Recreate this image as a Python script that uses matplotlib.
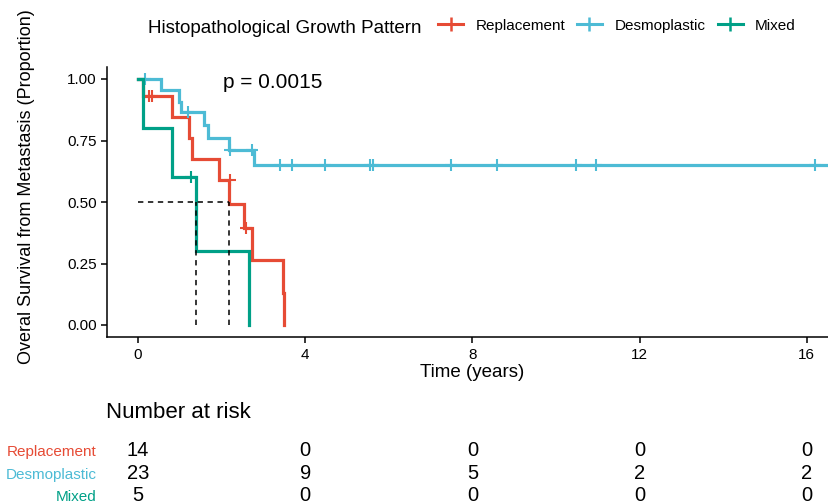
import matplotlib
matplotlib.use('Agg')
import matplotlib.pyplot as plt
from matplotlib.lines import Line2D
from matplotlib.transforms import blended_transform_factory

plt.rcParams['font.family'] = ['Liberation Sans', 'DejaVu Sans']

groups = ['Replacement', 'Desmoplastic', 'Mixed']
colors = ['#E64B35', '#4DBBD5', '#00A087']

# step curves (time, survival after the step)
repl_t = [0, 0.13, 0.82, 1.21, 1.29, 1.94, 2.18, 2.54, 2.72, 3.46, 3.50]
repl_s = [1.0, 0.929, 0.845, 0.760, 0.675, 0.591, 0.492, 0.394, 0.263, 0.131, 0.0]
repl_cens_t = [0.27, 0.34, 2.20, 2.58]
repl_cens_s = [0.929, 0.929, 0.591, 0.394]

desm_t = [0, 0.54, 0.99, 1.04, 1.58, 1.68, 2.18, 2.77, 17.0]
desm_s = [1.0, 0.955, 0.908, 0.867, 0.813, 0.762, 0.711, 0.652, 0.652]
desm_cens_t = [0.17, 1.20, 2.21, 2.72, 3.40, 3.68, 4.47, 5.54, 5.62,
               7.48, 8.58, 10.47, 10.95, 16.20]
desm_cens_s = [1.0, 0.867, 0.711, 0.711, 0.652, 0.652, 0.652, 0.652, 0.652,
               0.652, 0.652, 0.652, 0.652, 0.652]

mixed_t = [0, 0.13, 0.82, 1.38, 2.66]
mixed_s = [1.0, 0.8, 0.6, 0.3, 0.0]
mixed_cens_t = [1.28]
mixed_cens_s = [0.6]

median_t = [1.38, 2.18]
p_text = 'p = 0.0015'

risk_times = [0, 4, 8, 12, 16]
risk_repl = [14, 0, 0, 0, 0]
risk_desm = [23, 9, 5, 2, 2]
risk_mixed = [5, 0, 0, 0, 0]

W, H = 829, 504
fig = plt.figure(figsize=(W / 100, H / 100), dpi=100)
ax = fig.add_axes([107 / W, 1 - 337.3 / H, (W - 107) / W, (337.3 - 66.7) / H])

curves = [(repl_t, repl_s, repl_cens_t, repl_cens_s),
          (desm_t, desm_s, desm_cens_t, desm_cens_s),
          (mixed_t, mixed_s, mixed_cens_t, mixed_cens_s)]
for (t, s, ct, cs), c in zip(curves, colors):
    ax.step(t, s, where='post', color=c, lw=2.3, solid_joinstyle='miter')
    ax.plot(ct, cs, ls='none', marker='+', ms=8.5, mew=1.5, color=c)

# median lines
ax.plot([0, max(median_t)], [0.5, 0.5], ls=(0, (3.5, 3)), color='black', lw=1.1)
for m in median_t:
    ax.plot([m, m], [0, 0.5], ls=(0, (3.5, 3)), color='black', lw=1.1)

ax.text(2.03, 0.962, p_text, fontsize=15, va='baseline', ha='left')

ax.set_xlim(-0.74, 16.53)
ax.set_ylim(-0.05, 1.05)
ax.set_xticks(risk_times)
ax.set_yticks([0, 0.25, 0.5, 0.75, 1.0])
ax.set_yticklabels(['0.00', '0.25', '0.50', '0.75', '1.00'])
for side in ['top', 'right']:
    ax.spines[side].set_visible(False)
for side in ['left', 'bottom']:
    ax.spines[side].set_linewidth(1.1)
ax.tick_params(labelsize=11, length=4, width=1.1, colors='black')

fig.text(27 / W, 1 - 187 / H, 'Overal Survival from Metastasis (Proportion)',
         rotation=90, ha='center', va='center', fontsize=13)
fig.text(471.7 / W, 1 - 372.5 / H, 'Time (years)', ha='center', va='center',
         fontsize=13.5)

# legend on top
fig.text(148 / W, 1 - 33 / H, 'Histopathological Growth Pattern',
         fontsize=13.5, va='baseline')
key_x = [451, 589.5, 730.5]
text_x = [476, 615, 755]
for g, c, kx, tx in zip(groups, colors, key_x, text_x):
    fig.add_artist(Line2D([(kx - 12.5) / W, (kx + 12.5) / W],
                          [1 - 24.3 / H, 1 - 24.3 / H],
                          transform=fig.transFigure, color=c, lw=2.2))
    fig.add_artist(Line2D([kx / W], [1 - 24.3 / H], transform=fig.transFigure,
                          color=c, marker='+', ms=9.5, mew=1.8, ls='none'))
    fig.text(tx / W, 1 - 29.7 / H, g, fontsize=11, va='baseline')

# risk table
fig.text(106 / W, 1 - 417.7 / H, 'Number at risk', fontsize=16, va='baseline')
trans = blended_transform_factory(ax.transData, fig.transFigure)
row_base = [455.7, 478.8, 501.0]
for g, c, vals, yb in zip(groups, colors, [risk_repl, risk_desm, risk_mixed], row_base):
    fig.text(97 / W, 1 - yb / H, g, color=c, fontsize=11, ha='right', va='baseline')
    for t, v in zip(risk_times, vals):
        ax.text(t, 1 - yb / H, str(v), transform=trans, fontsize=14.5,
                ha='center', va='baseline', clip_on=False)

fig.savefig('out.png', dpi=100)
